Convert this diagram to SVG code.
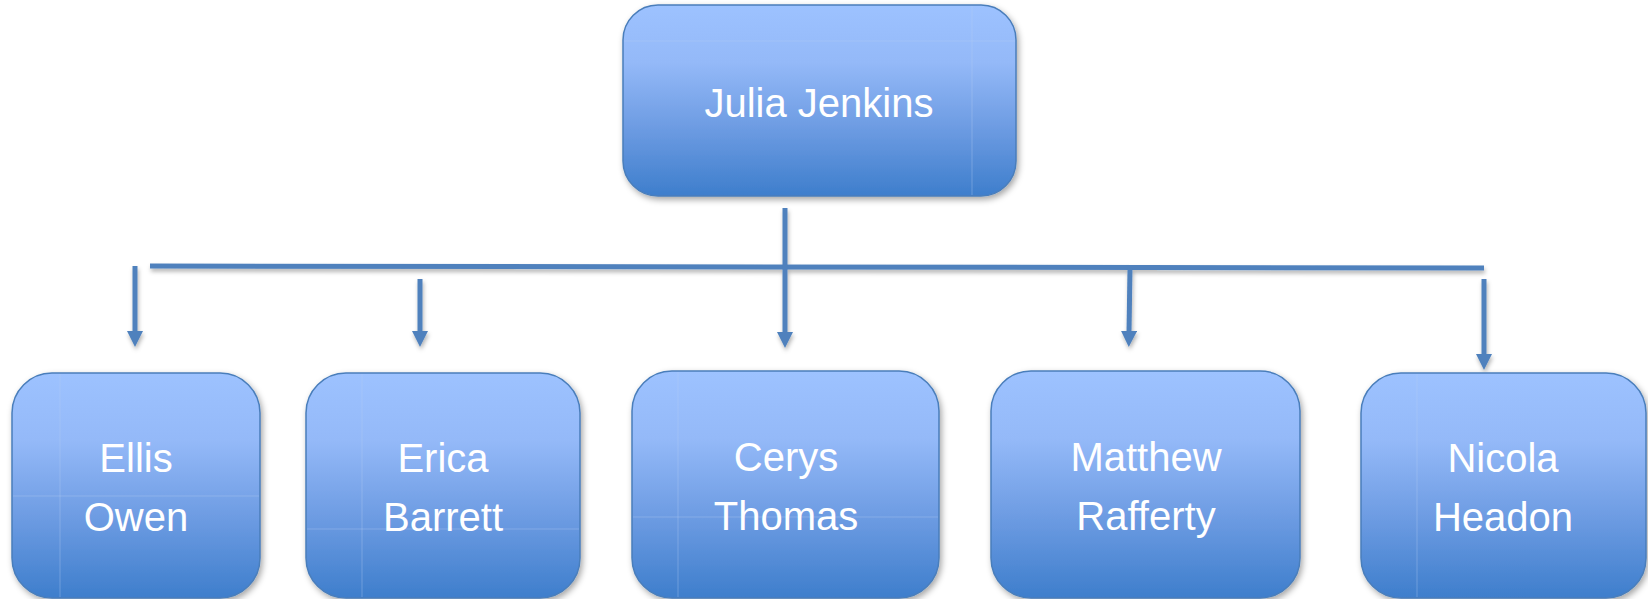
<svg xmlns="http://www.w3.org/2000/svg" width="1648" height="599" viewBox="0 0 1648 599">
<defs>
<linearGradient id="g" x1="0" y1="0" x2="0" y2="1">
<stop offset="0" stop-color="#9DC2FF"/>
<stop offset="0.3" stop-color="#94B9F8"/>
<stop offset="0.65" stop-color="#6C9BE2"/>
<stop offset="1" stop-color="#3E7ECC"/>
</linearGradient>
<filter id="sh" x="-10%" y="-10%" width="130%" height="130%">
<feDropShadow dx="2" dy="3" stdDeviation="3" flood-color="#000" flood-opacity="0.35"/>
</filter>
<filter id="lsh" x="-5%" y="-50%" width="110%" height="300%">
<feDropShadow dx="1" dy="3" stdDeviation="2" flood-color="#000" flood-opacity="0.3"/>
</filter>
<marker id="ah" markerUnits="userSpaceOnUse" markerWidth="16" markerHeight="16" viewBox="0 0 16 16" refX="1" refY="8" orient="auto">
<path d="M0,0 L16,8 L0,16 z" fill="#4F81BD"/>
</marker>
</defs>
<style>
.box{fill:url(#g);stroke:#4A7EBB;stroke-width:1.5;filter:url(#sh)}
.seam{stroke:#B5CDF2;stroke-width:1;opacity:0.35}
.t{font-family:"Liberation Sans",Arial,sans-serif;font-size:40px;fill:#FFFFFF;text-anchor:middle}
.c{stroke:#4F81BD;stroke-width:5;fill:none}
</style>
<g id="connectors" filter="url(#lsh)">
<line class="c" x1="150" y1="266" x2="1484" y2="268"/>
<line class="c" x1="785" y1="208" x2="785" y2="333" marker-end="url(#ah)"/>
<line class="c" x1="135" y1="266" x2="135" y2="332" marker-end="url(#ah)"/>
<line class="c" x1="420" y1="279" x2="420" y2="332" marker-end="url(#ah)"/>
<line class="c" x1="1130" y1="268" x2="1129" y2="332" marker-end="url(#ah)"/>
<line class="c" x1="1484" y1="279" x2="1484" y2="355" marker-end="url(#ah)"/>
</g>
<g id="julia">
<rect class="box" x="623" y="5" width="393" height="191" rx="35"/>
<line class="seam" x1="972" y1="6" x2="972" y2="195"/>
<line class="seam" x1="624" y1="41" x2="1015" y2="41"/>
<text class="t" x="819" y="117">Julia Jenkins</text>
</g>
<g id="ellis">
<rect class="box" x="12" y="373" width="248" height="225" rx="40"/>
<line class="seam" x1="60" y1="374" x2="60" y2="597"/>
<line class="seam" x1="13" y1="496" x2="259" y2="496"/>
<text class="t" x="136" y="472">Ellis</text>
<text class="t" x="136" y="531">Owen</text>
</g>
<g id="erica">
<rect class="box" x="306" y="373" width="274" height="225" rx="40"/>
<line class="seam" x1="362" y1="374" x2="362" y2="597"/>
<line class="seam" x1="307" y1="529" x2="579" y2="529"/>
<text class="t" x="443" y="472">Erica</text>
<text class="t" x="443" y="531">Barrett</text>
</g>
<g id="cerys">
<rect class="box" x="632" y="371" width="307" height="227" rx="40"/>
<line class="seam" x1="678" y1="372" x2="678" y2="597"/>
<line class="seam" x1="633" y1="517" x2="938" y2="517"/>
<text class="t" x="786" y="471">Cerys</text>
<text class="t" x="786" y="530">Thomas</text>
</g>
<g id="matthew">
<rect class="box" x="991" y="371" width="309" height="227" rx="40"/>
<text class="t" x="1146" y="471">Matthew</text>
<text class="t" x="1146" y="530">Rafferty</text>
</g>
<g id="nicola">
<rect class="box" x="1361" y="373" width="285" height="225" rx="40"/>
<line class="seam" x1="1417" y1="374" x2="1417" y2="597"/>
<text class="t" x="1503" y="472">Nicola</text>
<text class="t" x="1503" y="531">Headon</text>
</g>
</svg>
